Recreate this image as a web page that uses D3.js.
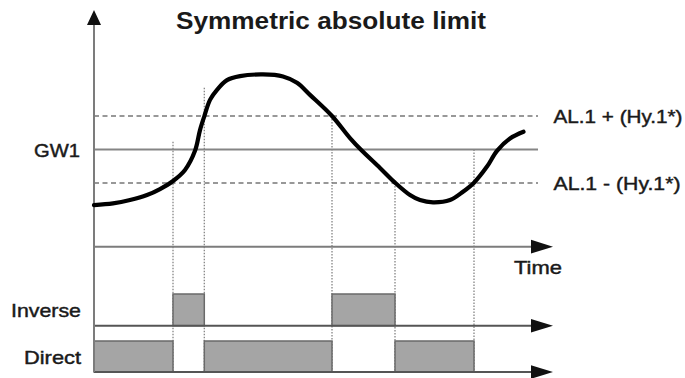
<!DOCTYPE html>
<html>
<head>
<meta charset="utf-8">
<script src="https://cdn.jsdelivr.net/npm/d3@7"></script>
<style>
  html, body { margin: 0; padding: 0; background: #fff; }
  svg { display: block; }
  text { font-family: "Liberation Sans", Arial, sans-serif; fill: #1a1a1a; }
  text.lbl { stroke: #1a1a1a; stroke-width: 0.45; }
</style>
</head>
<body>
<svg id="chart" width="685" height="378"></svg>
<script>
// ---- data ----
const titleText = "Symmetric absolute limit";
const curveTimes  = [0, 1.9, 3.6, 5.3, 6.6, 7.9, 9.1, 10.1, 10.6, 11.03, 11.6, 12.3, 13.3, 14.6, 16.9, 18.9, 20.3, 21.6, 23.8, 25.6, 26.8, 28.6, 30.1, 31.6, 32.6, 33.9, 35.6, 36.9, 38.0, 39.3, 40.3, 41.6, 42.95];
const curveValues = [-1.66, -1.61, -1.51, -1.36, -1.18, -0.94, -0.61, -0.04, 0.58, 0.99, 1.48, 1.78, 2.07, 2.19, 2.24, 2.18, 1.99, 1.63, 1.0, 0.34, -0.04, -0.55, -0.99, -1.36, -1.51, -1.58, -1.51, -1.26, -0.99, -0.51, -0.04, 0.33, 0.53];
const thresholdNames  = ["AL.1 + (Hy.1*)", "GW1", "AL.1 - (Hy.1*)"];
const thresholdValues = [1, 0, -1];
const eventTimes     = [7.9, 11.03, 23.8, 30.1, 38.0];
const eventTopValues = [0.23, 1.84, 1.0, -1.0, 0.0];
const inverseStart = [7.9, 23.8];
const inverseEnd   = [11.03, 30.1];
const directStart  = [0, 11.03, 30.1];
const directEnd    = [7.9, 23.8, 38.0];
const outputNames  = ["Inverse", "Direct"];
const timeLabel = "Time";

// ---- scales ----
const svg = d3.select("#chart");
const x = d3.scaleLinear().domain([0, 45.9]).range([94, 553]);
const y = d3.scaleLinear().domain([-1, 1]).range([183, 116]);
const yInv = d3.scaleLinear().domain([0, 1]).range([325.7, 294]);
const yDir = d3.scaleLinear().domain([0, 1]).range([372, 341]);
const tEndLines = 44.4;
const tArrowBase = 44.3;

const gray = "#7c7c7c";
const dark = "#555";

// title
svg.append("text")
  .attr("x", 176).attr("y", 28.5)
  .attr("font-size", 24).attr("font-weight", "bold")
  .attr("textLength", 310).attr("lengthAdjust", "spacingAndGlyphs")
  .text(titleText);

// event dotted verticals
svg.append("g").selectAll("line").data(eventTimes).join("line")
  .attr("x1", d => x(d)).attr("x2", d => x(d))
  .attr("y1", (d, i) => y(eventTopValues[i]))
  .attr("y2", yDir(0))
  .attr("stroke", "#858585").attr("stroke-width", 1.3)
  .attr("stroke-dasharray", "1.5,1.5");

// threshold lines
svg.append("g").selectAll("line").data(thresholdValues).join("line")
  .attr("x1", x(0)).attr("x2", x(tEndLines))
  .attr("y1", d => y(d)).attr("y2", d => y(d))
  .attr("stroke", (d, i) => i === 1 ? "#858585" : "#777")
  .attr("stroke-width", (d, i) => i === 1 ? 2 : 1.6)
  .attr("stroke-dasharray", (d, i) => i === 1 ? null : "5,3.5");

// threshold labels
const labelX = [553.5, 34, 553.5];
const labelW = [129, 46, 127];
svg.append("g").selectAll("text").data(thresholdNames).join("text")
  .attr("class", "lbl")
  .attr("x", (d, i) => labelX[i])
  .attr("y", (d, i) => y(thresholdValues[i]) + 7)
  .attr("font-size", 19)
  .attr("textLength", (d, i) => labelW[i]).attr("lengthAdjust", "spacingAndGlyphs")
  .text(d => d);

// pulses
const inv = inverseStart.map((s, i) => ({s, e: inverseEnd[i]}));
const dir = directStart.map((s, i) => ({s, e: directEnd[i]}));
function drawPulses(data, ys) {
  const g = svg.append("g");
  g.selectAll("rect").data(data).join("rect")
    .attr("x", d => x(d.s)).attr("width", d => x(d.e) - x(d.s))
    .attr("y", ys(1)).attr("height", ys(0) - ys(1))
    .attr("fill", "#a5a5a5").attr("stroke", "#6a6a6a").attr("stroke-width", 1.5);
}
drawPulses(inv, yInv);
drawPulses(dir, yDir);

// horizontal axes with arrows
function hAxis(yPix, color) {
  svg.append("line").attr("x1", x(0)).attr("x2", x(tArrowBase) + 2)
    .attr("y1", yPix).attr("y2", yPix)
    .attr("stroke", color).attr("stroke-width", 2);
  const xb = x(tArrowBase) - 6, xt = x(45.9);
  svg.append("path")
    .attr("d", `M${xb},${yPix - 6.8}L${xt},${yPix}L${xb},${yPix + 6.8}Z`)
    .attr("fill", "#111");
}
hAxis(y(-2.9), gray);
hAxis(yInv(0), dark);
hAxis(yDir(0), dark);

// vertical axis
svg.append("line").attr("x1", x(0)).attr("x2", x(0))
  .attr("y1", 22).attr("y2", yDir(0))
  .attr("stroke", gray).attr("stroke-width", 2);
svg.append("path")
  .attr("d", `M${x(0) - 7},25L${x(0)},10L${x(0) + 7},25Z`)
  .attr("fill", "#111");

// time label
svg.append("text").attr("class", "lbl").attr("x", 514).attr("y", 273.5)
  .attr("font-size", 19).attr("textLength", 48).attr("lengthAdjust", "spacingAndGlyphs")
  .text(timeLabel);

// output labels
const outY = [yInv(0.5) + 7, yDir(0.5) + 7];
const outX = [11, 24];
const outW = [70, 57];
svg.append("g").selectAll("text").data(outputNames).join("text")
  .attr("class", "lbl")
  .attr("x", (d, i) => outX[i]).attr("y", (d, i) => outY[i])
  .attr("font-size", 19)
  .attr("textLength", (d, i) => outW[i]).attr("lengthAdjust", "spacingAndGlyphs")
  .text(d => d);

// curve
const pts = curveTimes.map((t, i) => [t, curveValues[i]]);
svg.append("path")
  .datum(pts)
  .attr("d", d3.line().x(d => x(d[0])).y(d => y(d[1])).curve(d3.curveCatmullRom.alpha(0.5)))
  .attr("fill", "none").attr("stroke", "#000").attr("stroke-width", 4.2)
  .attr("stroke-linecap", "round").attr("stroke-linejoin", "round");
</script>
</body>
</html>
